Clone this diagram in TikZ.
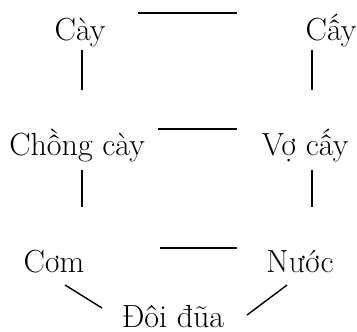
\documentclass[tikz,border=0pt]{standalone}
\usepackage{fontspec}
\begin{document}
\begin{tikzpicture}[x=1pt,y=-1pt,
  lbl/.style={anchor=base,inner sep=0pt,font=\fontsize{32}{38}\selectfont},
  conn/.style={line width=1.4pt}]
\useasboundingbox (0,0) rectangle (357,332);
\node[lbl] (cay) at (80,40) {Cày};
\node[lbl] (cayr) at (331,40) {Cấy};
\node[lbl] (chong) at (77,155) {Chồng cày};
\node[lbl] (vo) at (305,155) {Vợ cấy};
\node[lbl] (com) at (54,272) {Cơm};
\node[lbl] (nuoc) at (300,272) {Nước};
\node[lbl] (doi) at (173,327) {Đôi đũa};
\coordinate (t1) at (138,13); \coordinate (t2) at (237,13);
\coordinate (m1) at (158,129); \coordinate (m2) at (237,129);
\coordinate (b1) at (160,248); \coordinate (b2) at (237,248);
\coordinate (lv1) at (82,50); \coordinate (lv2) at (82,90);
\coordinate (rv1) at (312,50); \coordinate (rv2) at (312,90);
\coordinate (lw1) at (82,170); \coordinate (lw2) at (82,207);
\coordinate (rw1) at (312,170); \coordinate (rw2) at (312,207);
\coordinate (dl1) at (65,285); \coordinate (dl2) at (102,308);
\coordinate (dr1) at (247,315); \coordinate (dr2) at (287,285);
\draw[conn] (t1) -- (t2);
\draw[conn] (m1) -- (m2);
\draw[conn] (b1) -- (b2);
\draw[conn] (lv1) -- (lv2);
\draw[conn] (rv1) -- (rv2);
\draw[conn] (lw1) -- (lw2);
\draw[conn] (rw1) -- (rw2);
\draw[conn] (dl1) -- (dl2);
\draw[conn] (dr1) -- (dr2);
\end{tikzpicture}
\end{document}
